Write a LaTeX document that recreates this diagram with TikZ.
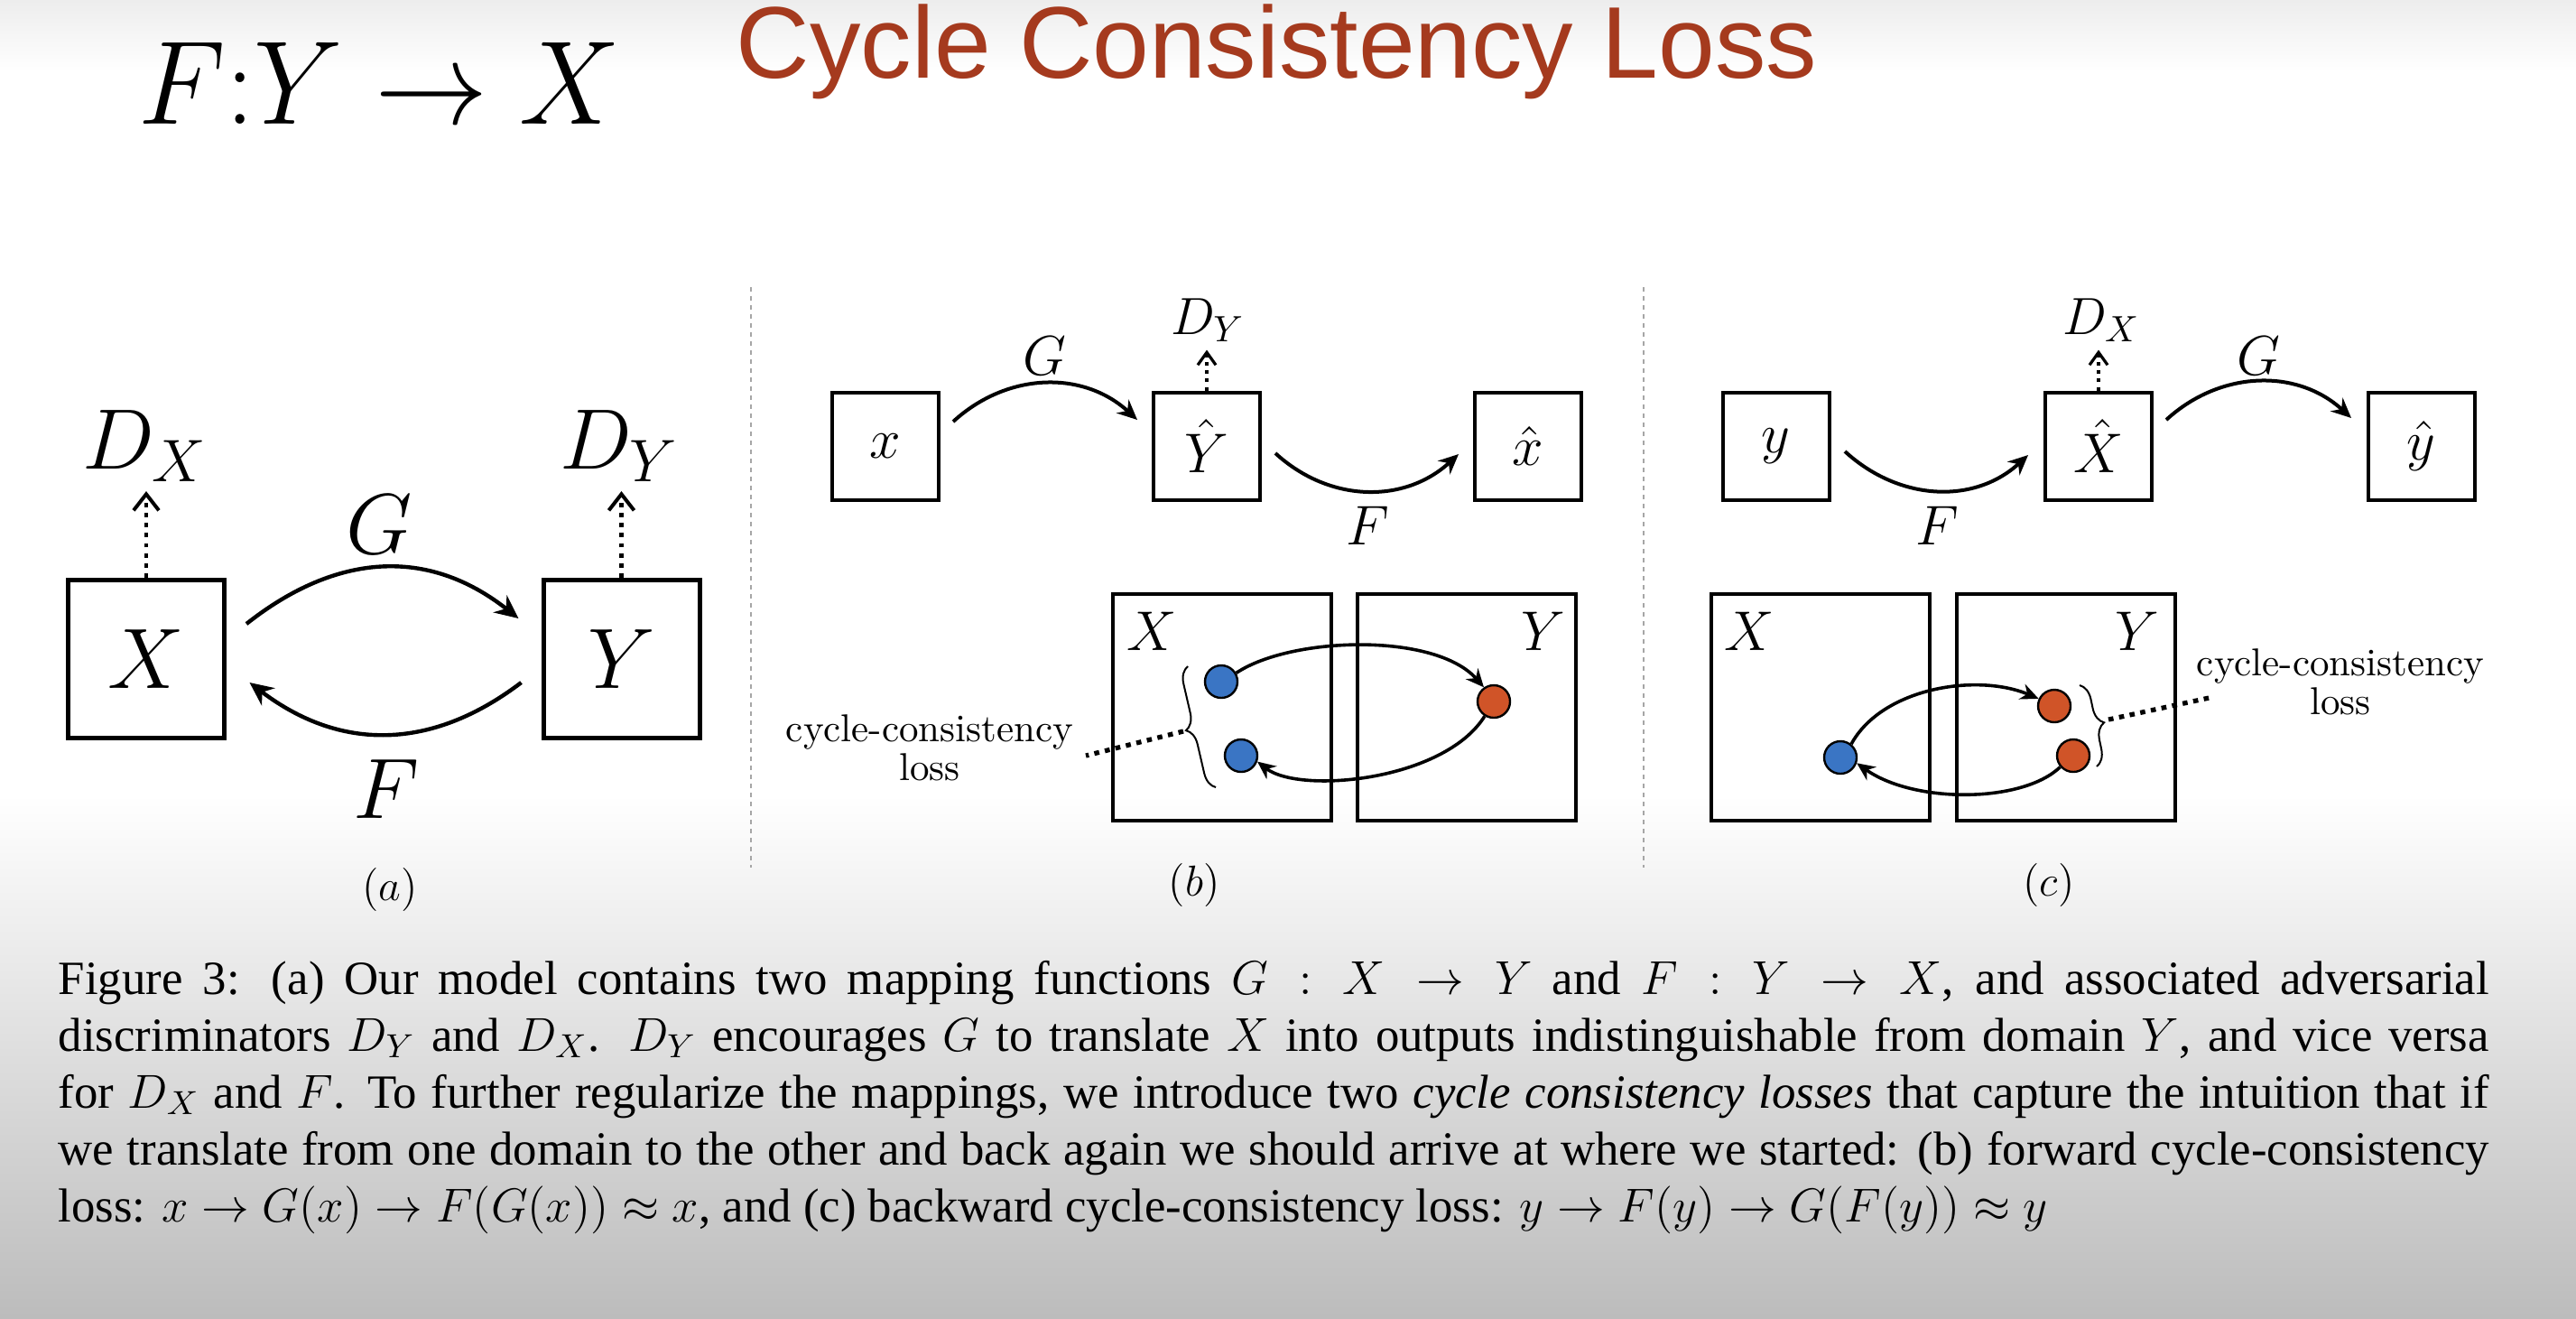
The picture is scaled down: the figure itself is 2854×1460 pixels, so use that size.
\RequirePackage{fix-cm}
\documentclass[tikz,border=0pt]{standalone}
\usepackage{amsmath}
\usepackage{graphicx}
\usepackage{fontspec}
\newfontfamily\capfont{Liberation Serif}
\newfontfamily\titlefont{Liberation Sans}
\usetikzlibrary{arrows.meta,decorations.pathreplacing,calc}
\definecolor{titlered}{HTML}{A53A1E}
\definecolor{dotblue}{HTML}{3A75C4}
\definecolor{dotred}{HTML}{D05428}
\definecolor{bggray}{HTML}{BCBCBC}
\definecolor{topgray}{HTML}{EDEDED}
\newcommand{\myfs}[1]{\fontsize{#1}{#1}\selectfont}
\begin{document}
\begin{tikzpicture}[x=0.25pt,y=-0.25pt,
  boxa/.style={draw,line width=1.25pt,minimum width=43.25pt,minimum height=43.75pt,inner sep=0pt,font={\myfs{23.75pt}}},
  boxs/.style={draw,line width=1pt,minimum width=29.5pt,minimum height=29.75pt,inner sep=0pt,font={\myfs{15.5pt}}},
  domainbox/.style={draw,line width=1pt,minimum width=60.5pt,minimum height=62.75pt,inner sep=0pt},
  lbla/.style={inner sep=0pt,font={\myfs{23.75pt}}},
  lbls/.style={inner sep=0pt,font={\myfs{15.5pt}}},
  dlbl/.style={inner sep=0pt,font={\myfs{14.5pt}}},
  panellbl/.style={inner sep=0pt,font={\myfs{12pt}}},
  mapa/.style={line width=1.1pt,-{Stealth[length=6.5pt,width=6pt]}},
  maps/.style={line width=1pt,-{Stealth[length=5.5pt,width=5pt]}},
  cyc/.style={line width=0.9pt,-{Stealth[length=5pt,width=4.5pt]}},
  disca/.style={line width=1.1pt,dash pattern=on 1.2pt off 1.6pt,-{Straight Barb[length=4.5pt,width=7pt,line width=1pt]},shorten >=2.5pt},
  discs/.style={line width=0.9pt,dash pattern=on 1pt off 1.3pt,-{Straight Barb[length=3.5pt,width=5pt,line width=0.8pt]},shorten >=2pt},
  bdot/.style={circle,draw,line width=0.6pt,fill=dotblue,minimum size=9pt,inner sep=0pt},
  rdot/.style={circle,draw,line width=0.6pt,fill=dotred,minimum size=9pt,inner sep=0pt},
  brc/.style={decorate,decoration={brace,amplitude=4.5pt},line width=0.5pt},
  lossline/.style={line width=1.3pt,dash pattern=on 1.4pt off 1.6pt},
  losstxt/.style={inner sep=0pt,align=center,font={\myfs{10.75pt}}},
  sepline/.style={line width=0.4pt,draw=gray!70,dash pattern=on 1.2pt off 1.3pt},
  capline/.style={anchor=base west,inner sep=0pt,font={\capfont\fontsize{13.2pt}{15pt}\selectfont}}
]
\useasboundingbox (0,0) rectangle (2854,1460);
% background
\fill[white] (0,0) rectangle (2854,1460);
\shade[top color=topgray,bottom color=white] (0,0) rectangle (2854,80);
\shade[top color=white,bottom color=bggray] (0,880) rectangle (2854,1460);

% title
\node[anchor=base west,inner sep=0pt,text=titlered,font={\titlefont\myfs{28.2pt}}] (title) at (815,86) {Cycle Consistency Loss};
\node[anchor=base west,inner sep=0pt,font={\myfs{33pt}}] (fyx) at (153,137) {\scalebox{0.95}[1]{$F{:}Y \rightarrow X$}};

% separators
\draw[sepline] (832,318) -- (832,961);
\draw[sepline] (1821,318) -- (1821,961);

% panel (a)
\node[boxa] (aX) at (162,730) {$X$};
\node[boxa] (aY) at (688.5,730) {$Y$};
\node[lbla,anchor=base] (aDX) at (161,519) {$D_X$};
\node[lbla,anchor=base] (aDY) at (686,519) {$D_Y$};
\draw[disca] (aX.north) -- (aX.north |- aDX.south);
\draw[disca] (aY.north) -- (aY.north |- aDY.south);
\node[lbla,anchor=base] (aG) at (420,613) {$G$};
\node[lbla,anchor=base] (aF) at (428,906) {$F$};
\draw[mapa] ([shift={(22,-39)}]aX.east) .. controls +(100,-79) and +(-100,-79) .. ([shift={(-25,-45)}]aY.west);
\draw[mapa] ([shift={(-22,26)}]aY.west) .. controls +(-100,76) and +(100,76) .. ([shift={(25.5,26)}]aX.east);
\node[panellbl] (la) at (432,985) {$(a)$};

% panel (b) top
\node[boxs] (bx) at (980.5,494) {$x$};
\node[boxs] (bYh) at (1337,494) {$\hat{Y}$};
\node[boxs] (bxh) at (1693,494) {$\hat{x}$};
\node[dlbl,anchor=base] (bDY) at (1338,370) {$D_Y$};
\draw[discs] (bYh.north) -- (bYh.north |- bDY.south);
\node[lbls,anchor=base] (bG) at (1157,415) {$G$};
\node[lbls,anchor=base] (bF) at (1515,603) {$F$};
\draw[maps] ([shift={(14.5,-27)}]bx.east) .. controls +(60,-55) and +(-60,-55) .. ([shift={(-16,-29)}]bYh.west);
\draw[maps] ([shift={(15,8)}]bYh.east) .. controls +(60,55) and +(-60,55) .. ([shift={(-16,9)}]bxh.west);

% panel (b) bottom
\node[domainbox] (bXd) at (1354,783.5) {};
\node[domainbox] (bYd) at (1625,783.5) {};
\node[lbls] (bXl) at (1276,699) {$X$};
\node[lbls] (bYl) at (1710,699) {$Y$};
\node[bdot] (bb1) at (1353,755) {};
\node[bdot] (bb2) at (1375,837) {};
\node[rdot] (br) at (1655,777) {};
\draw[cyc] (bb1.30) .. controls (1430,705) and (1590,700) .. (br.125);
\draw[cyc] (br.238) .. controls (1600,865) and (1440,880) .. (bb2.-20);
\draw[brc] (1347,872) -- (1316,738);
\coordinate (btip) at (1311,810);
\coordinate (bend) at (1203,837);
\draw[lossline] (btip) -- (bend);
\node[losstxt] (bloss) at (1030,828) {cycle-consistency\\loss};
\node[panellbl] (lb) at (1323,980) {$(b)$};

% panel (c) top
\node[boxs] (cy) at (1967.5,494) {$y$};
\node[boxs] (cXh) at (2325,494) {$\hat{X}$};
\node[boxs] (cyh) at (2682.5,494) {$\hat{y}$};
\node[dlbl,anchor=base] (cDX) at (2328,370) {$D_X$};
\draw[discs] (cXh.north) -- (cXh.north |- cDX.south);
\node[lbls,anchor=base] (cF) at (2146,603) {$F$};
\node[lbls,anchor=base] (cG) at (2502,415) {$G$};
\draw[maps] ([shift={(15.5,6)}]cy.east) .. controls +(60,55) and +(-60,55) .. ([shift={(-17,10)}]cXh.west);
\draw[maps] ([shift={(14,-29)}]cXh.east) .. controls +(60,-55) and +(-60,-55) .. ([shift={(-16.5,-31)}]cyh.west);

% panel (c) bottom
\node[domainbox] (cXd) at (2016.5,783.5) {};
\node[domainbox] (cYd) at (2289,783.5) {};
\node[lbls] (cXl) at (1938,699) {$X$};
\node[lbls] (cYl) at (2368,699) {$Y$};
\node[bdot] (cb) at (2039,839) {};
\node[rdot] (cr1) at (2276,782) {};
\node[rdot] (cr2) at (2297,837) {};
\draw[cyc] (cb.51) .. controls (2085,762) and (2190,745) .. (cr1.155);
\draw[cyc] (cr2.221) .. controls (2240,890) and (2120,890) .. (cb.-19);
\draw[brc] (2304,759) -- (2323,849);
\coordinate (ctip) at (2336,797);
\coordinate (cend) at (2452,772);
\draw[lossline] (ctip) -- (cend);
\node[losstxt] (closs) at (2593,755) {cycle-consistency\\loss};
\node[panellbl] (lc) at (2270,980) {$(c)$};

% caption
\node[capline] (cap1) at (64,1101) {\makebox[673.25pt][s]{Figure 3: (a) Our model contains two mapping functions $G : X \rightarrow Y$ and $F : Y \rightarrow X$, and associated adversarial}};
\node[capline] (cap2) at (64,1164) {\makebox[673.25pt][s]{discriminators $D_Y$ and $D_X$. $D_Y$ encourages $G$ to translate $X$ into outputs indistinguishable from domain $Y$, and vice versa}};
\node[capline] (cap3) at (64,1227) {\makebox[673.25pt][s]{for $D_X$ and $F$. To further regularize the mappings, we introduce two \textit{cycle consistency losses} that capture the intuition that if}};
\node[capline] (cap4) at (64,1290) {\makebox[673.25pt][s]{we translate from one domain to the other and back again we should arrive at where we started: (b) forward cycle-consistency}};
\node[capline] (cap5) at (64,1353) {loss: $x \rightarrow G(x) \rightarrow F(G(x)) \approx x$, and (c) backward cycle-consistency loss: $y \rightarrow F(y) \rightarrow G(F(y)) \approx y$};
\end{tikzpicture}
\end{document}
